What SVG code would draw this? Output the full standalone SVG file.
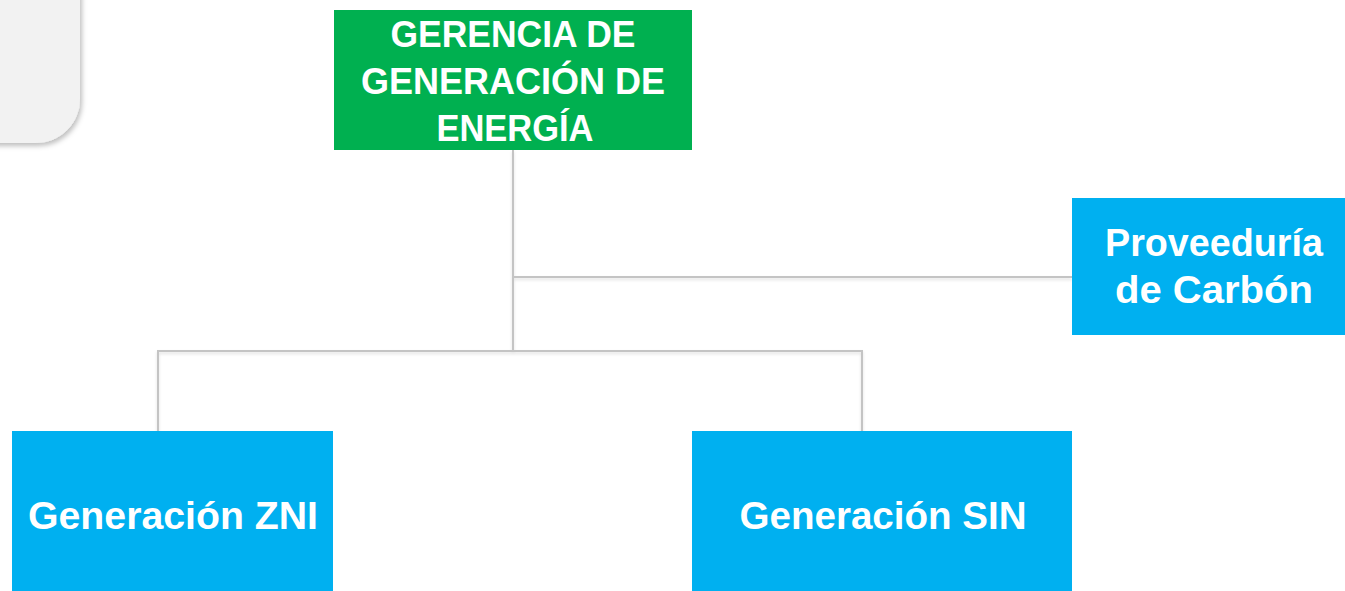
<svg xmlns="http://www.w3.org/2000/svg" width="1345" height="591" viewBox="0 0 1345 591">
<defs>
<filter id="sh" x="-20%" y="-20%" width="140%" height="140%">
<feDropShadow dx="2" dy="3" stdDeviation="2.5" flood-color="#000" flood-opacity="0.25"/>
</filter>
<filter id="lsh" x="-5%" y="-5%" width="110%" height="110%">
<feDropShadow dx="0" dy="2" stdDeviation="1.5" flood-color="#000" flood-opacity="0.12"/>
</filter>
</defs>
<style>
.t{font-family:"Liberation Sans",Arial,sans-serif;font-weight:bold;fill:#ffffff;text-anchor:middle}
.g{fill:#00b050}
.b{fill:#00b0f0}
.c{fill:none;stroke:#c4c4c4;stroke-width:2}
</style>
<rect width="1345" height="591" fill="#ffffff"/>
<g id="panel">
<rect x="-60" y="-60" width="140" height="203" rx="44" ry="44" fill="#f2f2f2" filter="url(#sh)"/>
</g>
<g id="connectors" filter="url(#lsh)">
<path class="c" d="M513 150 V351"/>
<path class="c" d="M513 277 H1072"/>
<path class="c" d="M158 431 V351 H862 V431"/>
</g>
<g id="gerencia">
<rect class="g" x="334" y="10" width="358" height="140"/>
<text class="t" font-size="37" x="513" y="47" textLength="245" lengthAdjust="spacingAndGlyphs">GERENCIA DE</text>
<text class="t" font-size="37" x="513" y="94" textLength="304" lengthAdjust="spacingAndGlyphs">GENERACIÓN DE</text>
<text class="t" font-size="37" x="515" y="141" textLength="157" lengthAdjust="spacingAndGlyphs">ENERGÍA</text>
</g>
<g id="proveeduria">
<rect class="b" x="1072" y="198" width="273" height="137"/>
<text class="t" font-size="38" x="1214" y="256" textLength="218" lengthAdjust="spacingAndGlyphs">Proveeduría</text>
<text class="t" font-size="38" x="1214" y="303" textLength="198" lengthAdjust="spacingAndGlyphs">de Carbón</text>
</g>
<g id="zni">
<rect class="b" x="12" y="431" width="321" height="160"/>
<text class="t" font-size="39" x="173" y="529" textLength="290" lengthAdjust="spacingAndGlyphs">Generación ZNI</text>
</g>
<g id="sin">
<rect class="b" x="692" y="431" width="380" height="160"/>
<text class="t" font-size="39" x="883" y="529" textLength="287" lengthAdjust="spacingAndGlyphs">Generación SIN</text>
</g>
</svg>
